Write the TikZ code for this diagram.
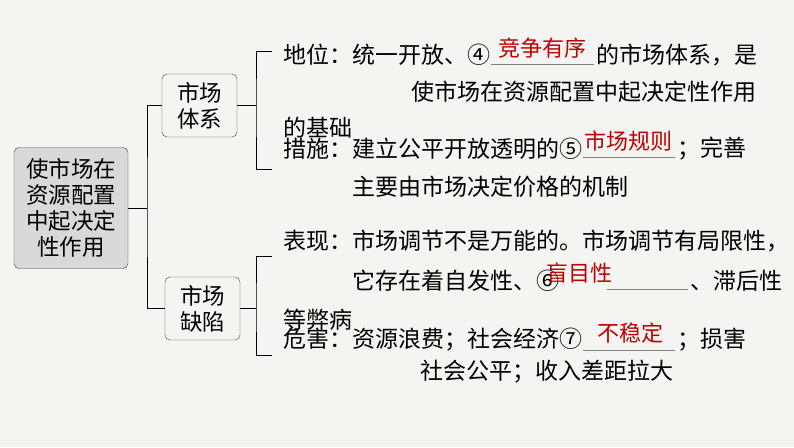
\documentclass[tikz,border=0pt]{standalone}
\usepackage{fontspec}
\setmainfont{Noto Sans CJK SC}
\usepackage{tikz}
\definecolor{bgray}{HTML}{F4F4F3}
\definecolor{boxgray}{HTML}{D9D9D9}
\definecolor{ansred}{HTML}{C00000}

\begin{document}
\begin{tikzpicture}[x=1pt,y=-1pt]
    \tikzstyle{box}=[draw=black!75,rounded corners=5pt,align=center,inner sep=0pt,font=\fontsize{22.5}{26}\selectfont]
    \tikzstyle{line}=[anchor=west,inner sep=0pt,font=\fontsize{23}{25}\selectfont]
    \tikzstyle{ans}=[inner sep=0pt,text=ansred,font=\fontsize{22}{24}\selectfont]
    \tikzstyle{blank}=[draw=black!50,thin]
    \fill[bgray] (0,0) rectangle (794,447);
    \useasboundingbox (0,0) rectangle (794,447);
    % boxes
    \node[box,fill=boxgray,minimum width=114pt,minimum height=121pt] (root) at (71,208) {使市场在\\资源配置\\中起决定\\性作用};
    \node[box,minimum width=75pt,minimum height=63pt] (sys) at (199.5,105.5) {市场\\体系};
    \node[box,minimum width=75pt,minimum height=63pt] (flaw) at (202.5,308.5) {市场\\缺陷};
    % brackets
    \coordinate (r1) at (147,208);
    \draw (root.east) -- (r1);
    \draw (sys.west) -| (r1) |- (flaw.west);
    \coordinate (s1) at (256,105.5);
    \coordinate (s1t) at (272,51);
    \coordinate (s1b) at (272,169);
    \draw (sys.east) -- (s1);
    \draw (s1t) -| (s1) |- (s1b);
    \coordinate (f1) at (256,308.5);
    \coordinate (f1t) at (272,256);
    \coordinate (f1b) at (272,355);
    \draw (flaw.east) -- (f1);
    \draw (f1t) -| (f1) |- (f1b);
    % texts
    \node[line] (t1) at (283,55) {地位：统一开放、④};
    \node[line] (t1b) at (596,55) {的市场体系，是};
    \node[line] (t2) at (411,92) {使市场在资源配置中起决定性作用};
    \node[line] (t3) at (283,128) {的基础};
    \node[line] (t4) at (283,149) {措施：建立公平开放透明的⑤};
    \node[line] (t4b) at (677,149) {；完善};
    \node[line] (t5) at (352,187) {主要由市场决定价格的机制};
    \node[line] (t6) at (283,241) {表现：市场调节不是万能的。市场调节有局限性，};
    \node[line] (t7) at (352,281) {它存在着自发性、⑥};
    \node[line] (t7b) at (690,281) {、滞后性};
    \node[line] (t8) at (283,320) {等弊病};
    \node[line] (t9) at (283,340) {危害：资源浪费；社会经济⑦};
    \node[line] (t9b) at (677,340) {；损害};
    \node[line] (t10) at (420,372) {社会公平；收入差距拉大};
    % blanks and answers
    \draw[blank] (491,64) -- (594,64);
    \draw[blank] (583,157) -- (675,157);
    \draw[blank] (607,289) -- (688,289);
    \draw[blank] (583,350) -- (675,350);
    \node[ans] (a4) at (542,48) {竞争有序};
    \node[ans] (a5) at (628,141) {市场规则};
    \node[ans] (a6) at (579,273) {盲目性};
    \node[ans] (a7) at (630,333) {不稳定};
  \end{tikzpicture}
\end{document}
